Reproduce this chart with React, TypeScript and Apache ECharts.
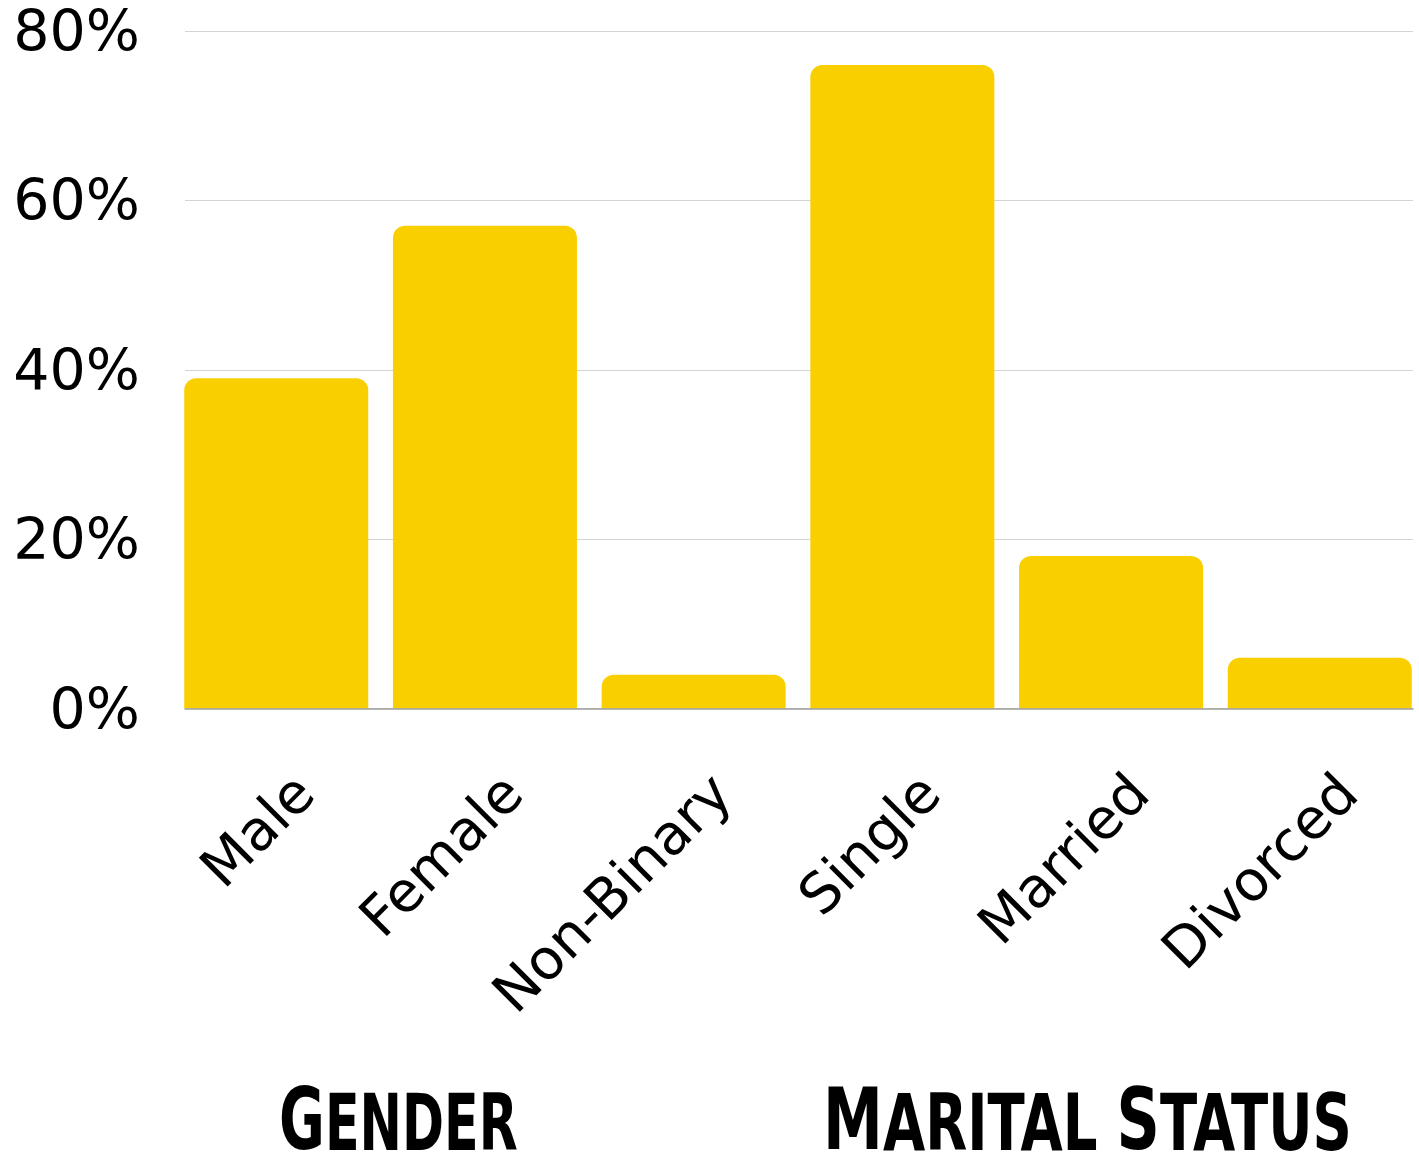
import React, { useEffect, useRef } from "react";
import * as echarts from "echarts";

// ---- data ----
const categories = ["Male", "Female", "Non-Binary", "Single", "Married", "Divorced"];
const shares = [39, 57, 4, 76, 18, 6];
const yMin = 0;
const yMax = 80;
const yStep = 20;
const genderTitle = [["G", "b"], ["ENDER", "s"]];
const maritalTitle = [["M", "b"], ["ARITAL", "s"], [" ", "s"], ["S", "b"], ["TATUS", "s"]];

// ---- layout ----
const W = 1419;
const H = 1163;
const PLOT_TOP = 31;
const PLOT_H = 677.5;
const BAR_LEFT = 171.9;
const BAR_W = 1252.2;
const LABEL_SHIFT = 27.5;
const BAR_COLOR = "#FACF00";
const FONT = "DejaVu Sans";

const toRich = (segs: string[][]) => segs.map(([t, k]) => `{${k}|${t}}`).join("");

const titleStyle = (segs: string[][]) => ({
  text: toRich(segs),
  fill: "#000",
  align: "left",
  verticalAlign: "bottom",
  rich: {
    b: { fontSize: 86, fontWeight: "bold", fontFamily: FONT, lineHeight: 78, verticalAlign: "bottom", fill: "#000" },
    s: { fontSize: 78, fontWeight: "bold", fontFamily: FONT, lineHeight: 70, verticalAlign: "bottom", fill: "#000" },
  },
});

export default function App() {
  const ref = useRef<HTMLDivElement>(null);
  useEffect(() => {
    if (!ref.current) return;
    const chart = echarts.init(ref.current, null, { renderer: "svg" });
    const gridBase = { top: PLOT_TOP, height: PLOT_H, outerBoundsMode: "none", containLabel: false };
    chart.setOption({
      animation: false,
      backgroundColor: "#ffffff",
      grid: [
        { ...gridBase, left: BAR_LEFT, width: BAR_W },
        { ...gridBase, left: 185, width: 1228 },
        { ...gridBase, left: BAR_LEFT + LABEL_SHIFT, width: BAR_W },
      ],
      xAxis: [
        {
          gridIndex: 0,
          type: "category",
          data: categories,
          axisLine: { show: false },
          axisTick: { show: false },
          axisLabel: { show: false },
          splitLine: { show: false },
        },
        {
          gridIndex: 1,
          type: "value",
          min: 0,
          max: 1,
          z: 5,
          axisLine: { show: true, onZero: false, lineStyle: { color: "#9e9e9e", width: 1.5 } },
          axisTick: { show: false },
          axisLabel: { show: false },
          splitLine: { show: false },
        },
        {
          gridIndex: 2,
          type: "category",
          data: categories,
          axisLine: { show: false },
          axisTick: { show: false },
          splitLine: { show: false },
          axisLabel: {
            interval: 0,
            rotate: 45,
            margin: 74.5,
            fontSize: 56,
            fontFamily: FONT,
            color: "#000",
          },
        },
      ],
      yAxis: [
        { gridIndex: 0, type: "value", min: yMin, max: yMax, interval: yStep, show: false },
        {
          gridIndex: 1,
          type: "value",
          min: yMin,
          max: yMax,
          interval: yStep,
          axisLine: { show: false },
          axisTick: { show: false },
          axisLabel: {
            formatter: "{value}%",
            fontSize: 57,
            fontFamily: FONT,
            color: "#000",
            margin: 45,
            padding: [5, 0, 0, 0],
          },
          splitLine: { show: true, lineStyle: { color: "#d3d3d3", width: 1 } },
        },
        { gridIndex: 2, type: "value", min: yMin, max: yMax, interval: yStep, show: false },
      ],
      series: [
        {
          type: "bar",
          xAxisIndex: 0,
          yAxisIndex: 0,
          data: shares,
          barWidth: 184,
          itemStyle: { color: BAR_COLOR, borderRadius: [12, 12, 0, 0] },
        },
      ],
      graphic: [
        { type: "text", x: 279, y: 1162, scaleX: 0.65, style: titleStyle(genderTitle) },
        { type: "text", x: 823, y: 1162, scaleX: 0.70, style: titleStyle(maritalTitle) },
      ],
    });
    return () => chart.dispose();
  }, []);
  return (
    <div
      ref={ref}
      style={{ position: "absolute", left: 0, top: 0, width: W, height: H, background: "#fff" }}
    />
  );
}
